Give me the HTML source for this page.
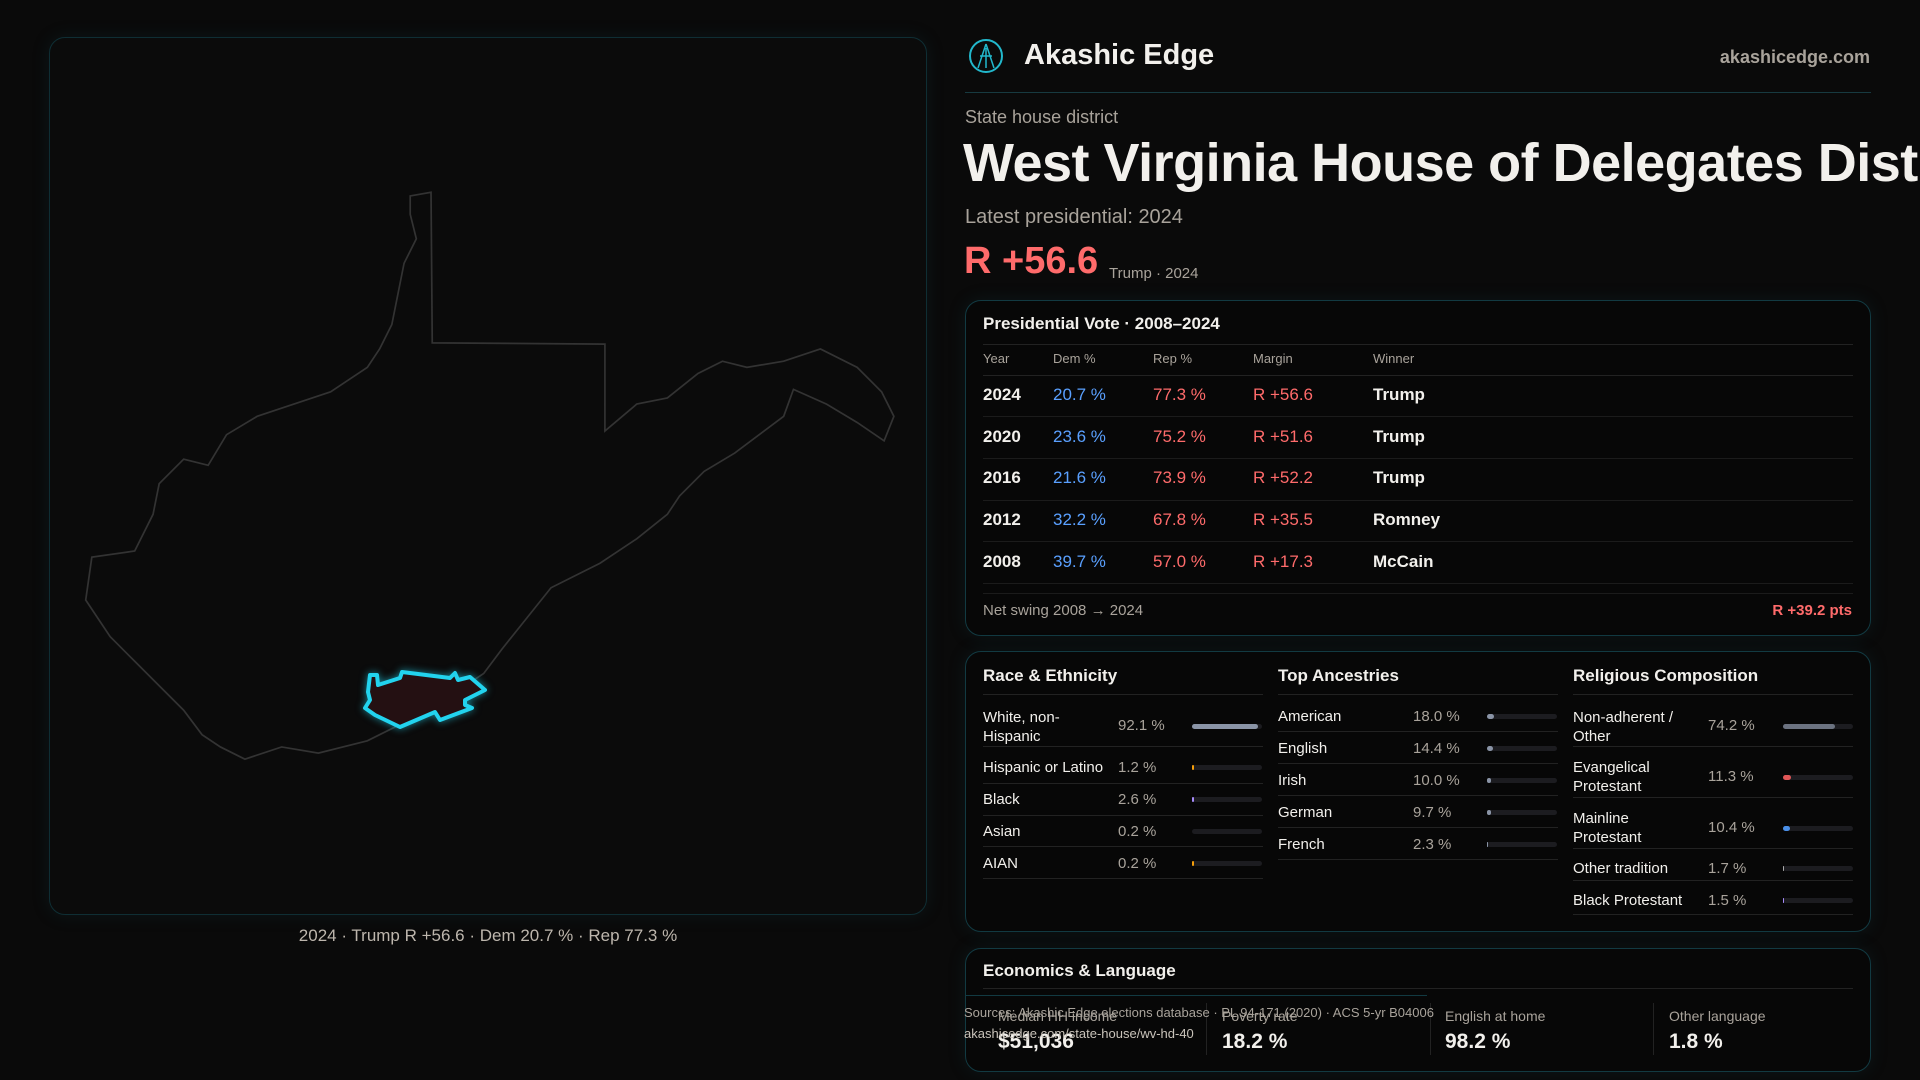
<!DOCTYPE html>
<html><head><meta charset="utf-8">
<style>
*{margin:0;padding:0;box-sizing:border-box}
body{width:1920px;height:1080px;background:#0a0a0a;font-family:"Liberation Sans",sans-serif;color:#f2f0ec;position:relative;overflow:hidden}
.a{position:absolute;white-space:nowrap}
.card{position:absolute;border:1px solid #123a42;border-radius:16px;background:#070707;box-shadow:0 0 18px rgba(20,80,90,0.18)}
.hl{position:absolute;height:1px;background:#222}
.m{color:#a9a39b}
.b{color:#5aa0ff}.r{color:#ff6b6b}
.bar{position:absolute;height:5px;border-radius:3px;background:#1c1c20;width:86px}
.bar i{position:absolute;left:0;top:0;height:5px;border-radius:3px}
</style></head><body>
<div class="card" style="left:49px;top:37px;width:878px;height:878px;border-color:#0f2e34;background:#0b0b0b"></div>
<svg class="a" style="left:0;top:0" width="1920" height="1080">
<g transform="scale(1.2245)" fill="none" stroke="#333" stroke-width="1.4">
<path d="M335,160 L352,157 L353,280 L494,281 L494,352 L520,330 L545,325 L570,305 L590,295 L610,300 L640,295 L670,285 L700,300 L720,320 L730,340 L722,360 L700,345 L675,330 L648,318 L640,340 L620,355 L600,370 L575,385 L555,405 L545,420 L520,440 L490,460 L470,470 L450,480 L430,505 L410,530 L395,550 L380,560 L350,580 L330,590 L300,605 L260,615 L230,610 L200,620 L180,610 L165,600 L150,580 L130,560 L110,540 L90,520 L70,490 L75,455 L110,450 L125,420 L130,395 L150,375 L170,380 L185,355 L210,340 L240,330 L270,320 L300,300 L310,285 L320,265 L325,240 L330,215 L340,195 L335,175 Z"/>
</g>
<path d="M370,675 L377,675 L378,685 L400,678 L402,672 L450,678 L455,673 L458,680 L470,677 L485,690 L465,700 L465,705 L472,708 L440,720 L435,712 L400,727 L375,715 L365,708 L370,700 L368,692 Z" fill="#241012" stroke="#22d3ee" stroke-width="4" stroke-linejoin="round" style="filter:drop-shadow(0 0 4px rgba(34,211,238,0.6))"/>
</svg>
<div class="a m" style="left:0;width:976px;text-align:center;top:926px;font-size:17px;color:#bdb6ad">2024 · Trump R +56.6 · Dem 20.7 % · Rep 77.3 %</div>

<svg class="a" style="left:968px;top:38px" width="36" height="36"><circle cx="18" cy="18" r="16" fill="none" stroke="#22b8cc" stroke-width="2"/><path d="M18,6 L10,30 M18,6 L26,30 M12,18 L24,18 M18,10 L18,30" stroke="#22b8cc" stroke-width="1.5" fill="none"/></svg>
<div class="a" style="left:1024px;top:39px;font-size:29px;font-weight:bold">Akashic Edge</div>
<div class="a m" style="right:50px;top:47px;font-size:18px;font-weight:bold">akashicedge.com</div>
<div class="hl" style="left:965px;top:92px;width:906px;background:#173a40"></div>
<div class="a m" style="left:965px;top:107px;font-size:18px">State house district</div>
<div style="position:absolute;left:963px;top:132px;width:957px;height:70px;overflow:hidden"><div class="a" style="left:0;top:0;font-size:54px;font-weight:bold;letter-spacing:-0.5px">West Virginia House of Delegates District 40</div></div>
<div class="a m" style="left:965px;top:206px;font-size:20px">Latest presidential: 2024</div>
<div class="a r" style="left:964px;top:240px;font-size:38px;font-weight:bold">R +56.6</div>
<div class="a m" style="left:1109px;top:265px;font-size:15px">Trump · 2024</div>

<div class="card" style="left:965px;top:300px;width:906px;height:336px"></div>
<div class="a" style="left:983px;top:314px;font-size:17px;font-weight:bold">Presidential Vote · 2008–2024</div>
<div class="hl" style="left:983px;top:344px;width:870px"></div>
<div class="a m" style="left:983px;top:351px;font-size:13px">Year</div>
<div class="a m" style="left:1053px;top:351px;font-size:13px">Dem %</div>
<div class="a m" style="left:1153px;top:351px;font-size:13px">Rep %</div>
<div class="a m" style="left:1253px;top:351px;font-size:13px">Margin</div>
<div class="a m" style="left:1373px;top:351px;font-size:13px">Winner</div>
<div class="hl" style="left:983px;top:375px;width:870px"></div>
<div style="position:absolute;left:983px;top:385px;font-size:17px">
<div style="position:absolute;top:0"><b class="a">2024</b><span class="a b" style="left:70px">20.7 %</span><span class="a r" style="left:170px">77.3 %</span><span class="a r" style="left:270px">R +56.6</span><b class="a" style="left:390px">Trump</b></div>
<div style="position:absolute;top:42px"><b class="a">2020</b><span class="a b" style="left:70px">23.6 %</span><span class="a r" style="left:170px">75.2 %</span><span class="a r" style="left:270px">R +51.6</span><b class="a" style="left:390px">Trump</b></div>
<div style="position:absolute;top:83px"><b class="a">2016</b><span class="a b" style="left:70px">21.6 %</span><span class="a r" style="left:170px">73.9 %</span><span class="a r" style="left:270px">R +52.2</span><b class="a" style="left:390px">Trump</b></div>
<div style="position:absolute;top:125px"><b class="a">2012</b><span class="a b" style="left:70px">32.2 %</span><span class="a r" style="left:170px">67.8 %</span><span class="a r" style="left:270px">R +35.5</span><b class="a" style="left:390px">Romney</b></div>
<div style="position:absolute;top:167px"><b class="a">2008</b><span class="a b" style="left:70px">39.7 %</span><span class="a r" style="left:170px">57.0 %</span><span class="a r" style="left:270px">R +17.3</span><b class="a" style="left:390px">McCain</b></div>
</div>
<div class="hl" style="left:983px;top:416px;width:870px;background:#1b1b1b"></div>
<div class="hl" style="left:983px;top:458px;width:870px;background:#1b1b1b"></div>
<div class="hl" style="left:983px;top:500px;width:870px;background:#1b1b1b"></div>
<div class="hl" style="left:983px;top:541px;width:870px;background:#1b1b1b"></div>
<div class="hl" style="left:983px;top:583px;width:870px;background:#1b1b1b"></div>
<div class="hl" style="left:983px;top:593px;width:870px;background:#1b1b1b"></div>
<div class="a m" style="left:983px;top:602px;font-size:15px">Net swing 2008 → 2024</div>
<div class="a r" style="right:68px;top:602px;font-size:15px;font-weight:bold">R +39.2 pts</div>

<div class="card" style="left:965px;top:651px;width:906px;height:281px"></div>
<div style="font-size:15px">
<div class="a" style="left:983px;top:666px;font-size:17px;font-weight:bold">Race &amp; Ethnicity</div>
<div class="hl" style="left:983px;top:694px;width:280px"></div>
<div class="a" style="left:983px;top:708px;line-height:19px">White, non-<br>Hispanic</div><div class="a m" style="left:1118px;top:717px">92.1 %</div><div class="bar" style="left:1192px;top:724px;width:70px"><i style="width:66px;background:#8a94a6"></i></div>
<div class="hl" style="left:983px;top:746px;width:280px"></div>
<div class="a" style="left:983px;top:759px">Hispanic or Latino</div><div class="a m" style="left:1118px;top:759px">1.2 %</div><div class="bar" style="left:1192px;top:765px;width:70px"><i style="width:2px;background:#f59e0b"></i></div>
<div class="hl" style="left:983px;top:783px;width:280px"></div>
<div class="a" style="left:983px;top:791px">Black</div><div class="a m" style="left:1118px;top:791px">2.6 %</div><div class="bar" style="left:1192px;top:797px;width:70px"><i style="width:2px;background:#a78bfa"></i></div>
<div class="hl" style="left:983px;top:815px;width:280px"></div>
<div class="a" style="left:983px;top:823px">Asian</div><div class="a m" style="left:1118px;top:823px">0.2 %</div><div class="bar" style="left:1192px;top:829px;width:70px"></div>
<div class="hl" style="left:983px;top:846px;width:280px"></div>
<div class="a" style="left:983px;top:855px">AIAN</div><div class="a m" style="left:1118px;top:855px">0.2 %</div><div class="bar" style="left:1192px;top:861px;width:70px"><i style="width:2px;background:#f59e0b"></i></div>
<div class="hl" style="left:983px;top:878px;width:280px"></div>

<div class="a" style="left:1278px;top:666px;font-size:17px;font-weight:bold">Top Ancestries</div>
<div class="hl" style="left:1278px;top:694px;width:280px"></div>
<div class="a" style="left:1278px;top:708px">American</div><div class="a m" style="left:1413px;top:708px">18.0 %</div><div class="bar" style="left:1487px;top:714px;width:70px"><i style="width:7px;background:#8a94a6"></i></div>
<div class="hl" style="left:1278px;top:731px;width:280px"></div>
<div class="a" style="left:1278px;top:740px">English</div><div class="a m" style="left:1413px;top:740px">14.4 %</div><div class="bar" style="left:1487px;top:746px;width:70px"><i style="width:6px;background:#8a94a6"></i></div>
<div class="hl" style="left:1278px;top:763px;width:280px"></div>
<div class="a" style="left:1278px;top:772px">Irish</div><div class="a m" style="left:1413px;top:772px">10.0 %</div><div class="bar" style="left:1487px;top:778px;width:70px"><i style="width:4px;background:#8a94a6"></i></div>
<div class="hl" style="left:1278px;top:795px;width:280px"></div>
<div class="a" style="left:1278px;top:804px">German</div><div class="a m" style="left:1413px;top:804px">9.7 %</div><div class="bar" style="left:1487px;top:810px;width:70px"><i style="width:4px;background:#8a94a6"></i></div>
<div class="hl" style="left:1278px;top:827px;width:280px"></div>
<div class="a" style="left:1278px;top:836px">French</div><div class="a m" style="left:1413px;top:836px">2.3 %</div><div class="bar" style="left:1487px;top:842px;width:70px"><i style="width:1px;background:#8a94a6"></i></div>
<div class="hl" style="left:1278px;top:859px;width:280px"></div>

<div class="a" style="left:1573px;top:666px;font-size:17px;font-weight:bold">Religious Composition</div>
<div class="hl" style="left:1573px;top:694px;width:280px"></div>
<div class="a" style="left:1573px;top:708px;line-height:19px">Non-adherent /<br>Other</div><div class="a m" style="left:1708px;top:717px">74.2 %</div><div class="bar" style="left:1783px;top:724px;width:70px"><i style="width:52px;background:#6b7280"></i></div>
<div class="hl" style="left:1573px;top:746px;width:280px"></div>
<div class="a" style="left:1573px;top:758px;line-height:19px">Evangelical<br>Protestant</div><div class="a m" style="left:1708px;top:768px">11.3 %</div><div class="bar" style="left:1783px;top:775px;width:70px"><i style="width:8px;background:#e05656"></i></div>
<div class="hl" style="left:1573px;top:797px;width:280px"></div>
<div class="a" style="left:1573px;top:809px;line-height:19px">Mainline<br>Protestant</div><div class="a m" style="left:1708px;top:819px">10.4 %</div><div class="bar" style="left:1783px;top:826px;width:70px"><i style="width:7px;background:#4a8fe8"></i></div>
<div class="hl" style="left:1573px;top:848px;width:280px"></div>
<div class="a" style="left:1573px;top:860px">Other tradition</div><div class="a m" style="left:1708px;top:860px">1.7 %</div><div class="bar" style="left:1783px;top:866px;width:70px"><i style="width:1px;background:#aaa"></i></div>
<div class="hl" style="left:1573px;top:880px;width:280px"></div>
<div class="a" style="left:1573px;top:892px">Black Protestant</div><div class="a m" style="left:1708px;top:892px">1.5 %</div><div class="bar" style="left:1783px;top:898px;width:70px"><i style="width:1px;background:#a78bfa"></i></div>
<div class="hl" style="left:1573px;top:914px;width:280px"></div>
</div>

<div class="card" style="left:965px;top:948px;width:906px;height:124px"></div>
<div class="a" style="left:983px;top:961px;font-size:17px;font-weight:bold">Economics &amp; Language</div>
<div class="hl" style="left:983px;top:988px;width:870px"></div>
<div class="hl" style="left:965px;top:995px;width:462px;background:#123a42"></div>
<div class="a m" style="left:998px;top:1008px;font-size:14px">Median HH income</div><div class="a" style="left:998px;top:1030px;font-size:21px;font-weight:bold">$51,036</div>
<div class="a m" style="left:1222px;top:1008px;font-size:14px">Poverty rate</div><div class="a" style="left:1222px;top:1030px;font-size:21px;font-weight:bold">18.2 %</div>
<div class="a m" style="left:1445px;top:1008px;font-size:14px">English at home</div><div class="a" style="left:1445px;top:1030px;font-size:21px;font-weight:bold">98.2 %</div>
<div class="a m" style="left:1669px;top:1008px;font-size:14px">Other language</div><div class="a" style="left:1669px;top:1030px;font-size:21px;font-weight:bold">1.8 %</div>
<div style="position:absolute;left:1206px;top:1003px;width:1px;height:52px;background:#222"></div>
<div style="position:absolute;left:1430px;top:1003px;width:1px;height:52px;background:#222"></div>
<div style="position:absolute;left:1653px;top:1003px;width:1px;height:52px;background:#222"></div>
<div class="a m" style="left:964px;top:1005px;font-size:13px">Sources: Akashic Edge elections database · PL 94-171 (2020) · ACS 5-yr B04006</div>
<div class="a m" style="left:964px;top:1026px;font-size:13px;color:#c9c3ba">akashicedge.com/state-house/wv-hd-40</div>
</body></html>
